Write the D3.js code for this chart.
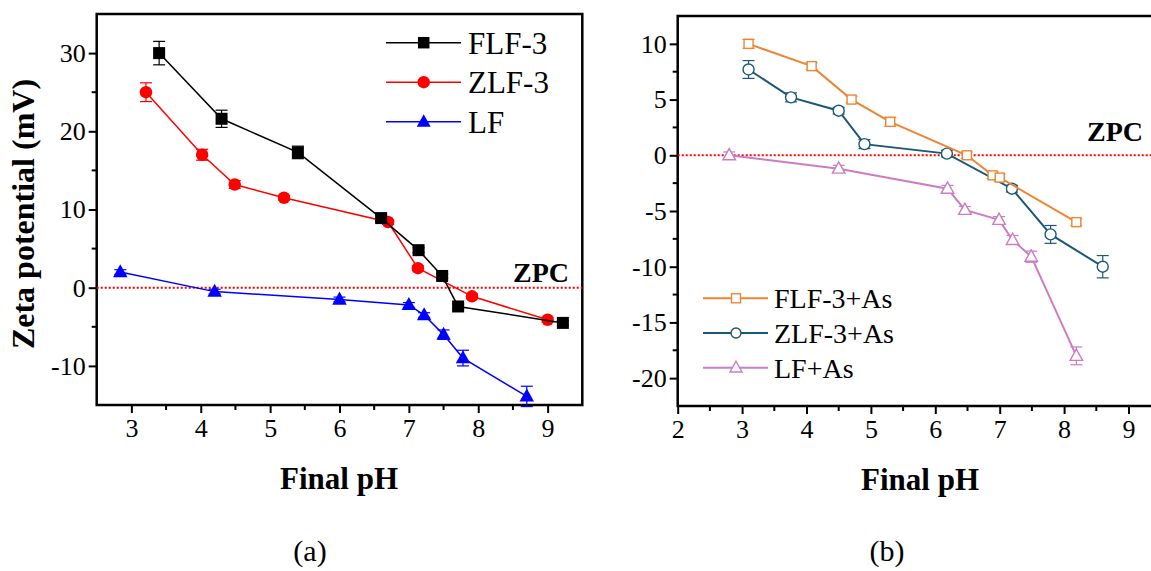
<!DOCTYPE html>
<meta charset="utf-8">
<head>
<style>
body { margin: 0; background: #fff; }
svg text { font-family: "Liberation Serif", "Times New Roman", serif; }
.axis path, .axis line { stroke: #000; }
</style>
</head>
<body>
<svg width="1151" height="571"></svg>
<script src="https://cdn.jsdelivr.net/npm/d3@7"></script>
<script>

// ---- panel (a) data ----
var flfX = [3.4, 4.3, 5.4, 6.6, 7.14, 7.48, 7.71, 9.22];
var flfY = [30, 21.6, 17.3, 8.9, 4.8, 1.5, -2.4, -4.5];
var flfE = [1.5, 1.1, 0.8, 0.4, 0.3, 0.3, 0.3, 0.3];

var zlfX = [3.21, 4.02, 4.49, 5.2, 6.7, 7.13, 7.91, 9.0];
var zlfY = [25, 17, 13.2, 11.5, 8.4, 2.5, -1.1, -4.1];
var zlfE = [1.2, 0.7, 0.5, 0.3, 0.3, 0.3, 0.3, 0.3];

var lfX = [2.84, 4.2, 6.0, 7.0, 7.22, 7.5, 7.78, 8.7];
var lfY = [2.0, -0.5, -1.5, -2.2, -3.5, -6.0, -9.0, -13.9];
var lfE = [0.3, 0.3, 0.3, 0.3, 0.3, 0.6, 1.0, 1.3];

// ---- panel (b) data ----
var flfAsX = [3.1, 4.08, 4.7, 5.3, 6.49, 6.89, 7.0, 8.19];
var flfAsY = [10, 8, 5, 3, 0, -1.8, -2.0, -6.0];
var flfAsE = [0.4, 0.3, 0.3, 0.4, 0.3, 0.3, 0.3, 0.3];

var zlfAsX = [3.1, 3.76, 4.5, 4.9, 6.18, 7.19, 7.79, 8.6];
var zlfAsY = [7.7, 5.2, 4.0, 1.0, 0.15, -3.0, -7.1, -10.0];
var zlfAsE = [0.8, 0.4, 0.3, 0.4, 0.3, 0.3, 0.8, 1.0];

var lfAsX = [2.8, 4.5, 6.19, 6.46, 6.99, 7.2, 7.49, 8.19];
var lfAsY = [0, -1.2, -3.0, -4.9, -5.8, -7.6, -9.1, -18.0];
var lfAsE = [0.3, 0.3, 0.3, 0.3, 0.3, 0.4, 0.5, 0.8];

var svg = d3.select("svg");

function zipPts(xs, ys, es) {
  return xs.map(function(x, i) { return {x: x, y: ys[i], e: es[i]}; });
}

function marker(g, shape, cx, cy, size, color, open) {
  var fill = open ? "#fff" : color;
  var sw = open ? 1.4 : 0;
  if (shape == "square") {
    g.append("rect").attr("x", cx - size / 2).attr("y", cy - size / 2)
      .attr("width", size).attr("height", size)
      .attr("fill", fill).attr("stroke", color).attr("stroke-width", sw);
  } else if (shape == "circle") {
    g.append("circle").attr("cx", cx).attr("cy", cy).attr("r", size / 2)
      .attr("fill", fill).attr("stroke", color).attr("stroke-width", sw);
  } else {
    var h = size * 0.9;
    g.append("path")
      .attr("d", "M" + cx + "," + (cy - h * 0.6) + "L" + (cx + size / 2) + "," + (cy + h * 0.4) + "L" + (cx - size / 2) + "," + (cy + h * 0.4) + "Z")
      .attr("fill", fill).attr("stroke", color).attr("stroke-width", sw);
  }
}

function drawSeries(g, x, y, pts, color, shape, size, lw, open) {
  var line = d3.line().x(function(d) { return x(d.x); }).y(function(d) { return y(d.y); });
  g.append("path").datum(pts).attr("d", line)
    .attr("fill", "none").attr("stroke", color).attr("stroke-width", lw);
  pts.forEach(function(d) {
    var cx = x(d.x), y1 = y(d.y + d.e), y2 = y(d.y - d.e);
    g.append("line").attr("x1", cx).attr("x2", cx).attr("y1", y1).attr("y2", y2)
      .attr("stroke", color).attr("stroke-width", 1.2);
    [y1, y2].forEach(function(yy) {
      g.append("line").attr("x1", cx - 6).attr("x2", cx + 6).attr("y1", yy).attr("y2", yy)
        .attr("stroke", color).attr("stroke-width", 1.2);
    });
  });
  pts.forEach(function(d) {
    marker(g, shape, x(d.x), y(d.y), size, color, open);
  });
}

function drawAxes(x, y, xMaj, xMin, yMaj, yMin, fs) {
  var x0 = x.range()[0], x1 = x.range()[1], y0 = y.range()[0], y1 = y.range()[1];
  var g = svg.append("g");
  // minor ticks
  xMin.forEach(function(v) {
    g.append("line").attr("x1", x(v)).attr("x2", x(v)).attr("y1", y0).attr("y2", y0 + 5)
      .attr("stroke", "#000").attr("stroke-width", 2);
  });
  yMin.forEach(function(v) {
    g.append("line").attr("x1", x0 - 5).attr("x2", x0).attr("y1", y(v)).attr("y2", y(v))
      .attr("stroke", "#000").attr("stroke-width", 2);
  });
  var xa = svg.append("g").attr("class", "axis").attr("transform", "translate(0," + y0 + ")")
    .call(d3.axisBottom(x).tickValues(xMaj).tickSize(8).tickPadding(6).tickFormat(d3.format("d")));
  var ya = svg.append("g").attr("class", "axis").attr("transform", "translate(" + x0 + ",0)")
    .call(d3.axisLeft(y).tickValues(yMaj).tickSize(8).tickPadding(3).tickFormat(function(d) { return d < 0 ? "-" + (-d) : d; }));
  [xa, ya].forEach(function(a) {
    a.select(".domain").remove();
    a.selectAll("line").attr("stroke-width", 2);
    a.selectAll("text").attr("font-size", fs).attr("fill", "#000")
      .style("font-family", "'Liberation Serif', serif");
  });
  // frame
  svg.append("rect").attr("x", x0).attr("y", y1).attr("width", x1 - x0).attr("height", y0 - y1)
    .attr("fill", "none").attr("stroke", "#000").attr("stroke-width", 2.5);
}

function zpc(x, y, tx, ty) {
  svg.append("line").attr("x1", x.range()[0]).attr("x2", x.range()[1])
    .attr("y1", y(0)).attr("y2", y(0))
    .attr("stroke", "#f00").attr("stroke-width", 2).attr("stroke-dasharray", "2,2");
  svg.append("text").attr("x", tx).attr("y", ty).attr("text-anchor", "end")
    .attr("font-size", 28).attr("font-weight", "bold").text("ZPC");
}

// ---------- panel (a) ----------
var xa = d3.scaleLinear().domain([2.5, 9.5]).range([96.7, 582.3]);
var ya = d3.scaleLinear().domain([-15, 35]).range([405, 14]);

drawAxes(xa, ya, d3.range(3, 10), d3.range(3.5, 9.5, 1),
  [-10, 0, 10, 20, 30], [-5, 5, 15, 25], 26);
zpc(xa, ya, 569, 282);

var ga = svg.append("g");
drawSeries(ga, xa, ya, zipPts(lfX, lfY, lfE), "#0000ff", "triangle", 14.5, 1.5, false);
drawSeries(ga, xa, ya, zipPts(zlfX, zlfY, zlfE), "#ff0000", "circle", 12.5, 1.5, false);
drawSeries(ga, xa, ya, zipPts(flfX, flfY, flfE), "#000000", "square", 12, 1.5, false);

var legA = [["FLF-3", "#000000", "square", 11.5], ["ZLF-3", "#ff0000", "circle", 12.5], ["LF", "#0000ff", "triangle", 14]];
legA.forEach(function(d, i) {
  var ly = 42.7 + i * 39.5;
  var g = svg.append("g");
  g.append("line").attr("x1", 386).attr("x2", 461).attr("y1", ly).attr("y2", ly)
    .attr("stroke", d[1]).attr("stroke-width", 1.5);
  marker(g, d[2], 423.7, ly, d[3], d[1], false);
  g.append("text").attr("x", 468).attr("y", ly + 11).attr("font-size", 31).text(d[0]);
});

// ---------- panel (b) ----------
var xb = d3.scaleLinear().domain([2, 9.4]).range([677.7, 677.7 + 7.4 * 64.4]);
var yb = d3.scaleLinear().domain([-22.5, 12.5]).range([406, 16]);

drawAxes(xb, yb, d3.range(2, 10), d3.range(2.5, 9.5, 1),
  [-20, -15, -10, -5, 0, 5, 10], [-17.5, -12.5, -7.5, -2.5, 2.5, 7.5], 26);
zpc(xb, yb, 1143, 141);

var orange = "#ec8634", teal = "#1a5878", violet = "#cb7cc3";
var gb = svg.append("g");
drawSeries(gb, xb, yb, zipPts(lfAsX, lfAsY, lfAsE), violet, "triangle", 12.5, 2, true);
drawSeries(gb, xb, yb, zipPts(zlfAsX, zlfAsY, zlfAsE), teal, "circle", 11, 2, true);
drawSeries(gb, xb, yb, zipPts(flfAsX, flfAsY, flfAsE), orange, "square", 9, 2, true);

var legB = [["FLF-3+As", orange, "square", 9], ["ZLF-3+As", teal, "circle", 10], ["LF+As", violet, "triangle", 12]];
legB.forEach(function(d, i) {
  var ly = 298.3 + i * 34.7;
  var g = svg.append("g");
  g.append("line").attr("x1", 703).attr("x2", 768).attr("y1", ly).attr("y2", ly)
    .attr("stroke", d[1]).attr("stroke-width", 2);
  marker(g, d[2], 736, ly, d[3], d[1], true);
  g.append("text").attr("x", 774).attr("y", ly + 10).attr("font-size", 28).text(d[0]);
});

// ---------- titles ----------
svg.append("text").attr("transform", "translate(34,214) rotate(-90)")
  .attr("text-anchor", "middle").attr("font-size", 32).attr("font-weight", "bold")
  .text("Zeta potential (mV)");
svg.append("text").attr("x", 339).attr("y", 489).attr("text-anchor", "middle")
  .attr("font-size", 31).attr("font-weight", "bold").text("Final pH");
svg.append("text").attr("x", 920).attr("y", 490).attr("text-anchor", "middle")
  .attr("font-size", 31).attr("font-weight", "bold").text("Final pH");
svg.append("text").attr("x", 310).attr("y", 561).attr("text-anchor", "middle")
  .attr("font-size", 30).text("(a)");
svg.append("text").attr("x", 887).attr("y", 561).attr("text-anchor", "middle")
  .attr("font-size", 30).text("(b)");

</script>
</body>
